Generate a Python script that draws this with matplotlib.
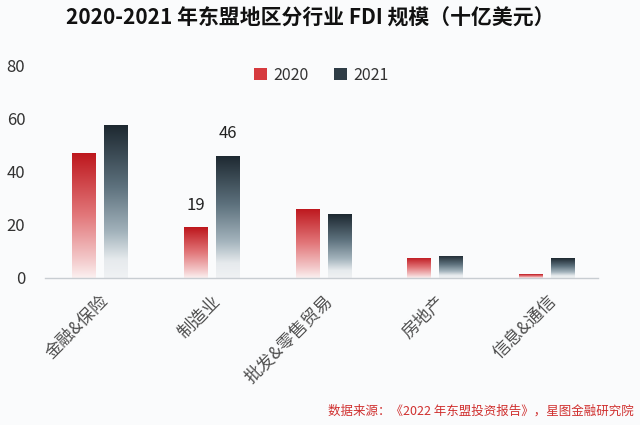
import matplotlib
matplotlib.use("Agg")
import matplotlib.pyplot as plt
import numpy as np
from matplotlib.colors import LinearSegmentedColormap
from matplotlib.patches import Rectangle

plt.rcParams['font.family'] = ['Noto Sans CJK SC', 'DejaVu Sans']

categories = ["金融&保险", "制造业", "批发&零售贸易", "房地产", "信息&通信"]
values_2020 = [47, 19, 26, 7.6, 1.5]
values_2021 = [57.4, 46, 24, 8.3, 7.4]
series_names = ["2020", "2021"]
yticks = [0, 20, 40, 60, 80]
annotations = [(1, 0, "19"), (1, 1, "46")]

bg = "#fafbfc"
red_cmap = LinearSegmentedColormap.from_list(
    "r", [(0, "#fbf0f0"), (0.15, "#f3c8c9"), (0.5, "#e2777a"), (1, "#bd161c")])
dark_cmap = LinearSegmentedColormap.from_list(
    "d", [(0, "#f0f2f4"), (0.12, "#e6eaed"), (0.3, "#a3b3bc"), (0.6, "#5d717d"), (1, "#1d2830")])

fig = plt.figure(figsize=(6.4, 4.25), dpi=100, facecolor=bg)
ax = fig.add_axes([0.07, 0.346, 0.864, 0.501], facecolor=bg)

x = np.arange(len(categories))
w = 0.214
off = 0.143
bars1 = ax.bar(x - off, values_2020, w, facecolor="none", edgecolor="none")
bars2 = ax.bar(x + off, values_2021, w, facecolor="none", edgecolor="none")

grad = np.linspace(0, 1, 256).reshape(-1, 1)
for bars, cmap in ((bars1, red_cmap), (bars2, dark_cmap)):
    for b in bars:
        bx, bw, bh = b.get_x(), b.get_width(), b.get_height()
        im = ax.imshow(grad, cmap=cmap, origin="lower", aspect="auto",
                       extent=(bx, bx + bw, 0, bh), zorder=2)
        im.set_clip_path(b)

ax.set_xlim(-0.49, 4.45)
ax.set_ylim(0, 80)
ax.set_yticks(yticks)
ax.set_yticklabels([str(t) for t in yticks], fontsize=12, color="#333333")
ax.tick_params(axis="y", length=0, pad=14)
ax.set_xticks(x)
ax.set_xticklabels(categories, rotation=45, ha="right", rotation_mode="anchor",
                   fontsize=12.5, color="#505050")
ax.tick_params(axis="x", length=0, pad=10)
for s in ["top", "right", "left"]:
    ax.spines[s].set_visible(False)
ax.spines["bottom"].set_color("#c8cdd2")
ax.spines["bottom"].set_linewidth(1.0)

for i, j, txt in annotations:
    vals = values_2020 if j == 0 else values_2021
    xpos = x[i] - off if j == 0 else x[i] + off
    ax.text(xpos, vals[i] + 5, txt, ha="center", va="bottom", fontsize=12, color="#222222")

handles = [Rectangle((0, 0), 1, 1, facecolor="#d63a3e", edgecolor="none"),
           Rectangle((0, 0), 1, 1, facecolor="#2f3d46", edgecolor="none")]
ax.legend(handles, series_names, loc="upper center", bbox_to_anchor=(0.5, 1.06), ncol=2,
          frameon=False, fontsize=11.5, handlelength=0.8, handleheight=0.8,
          handletextpad=0.4, columnspacing=1.6, labelcolor="#333333")

fig.text(0.484, 0.958, "2020-2021 年东盟地区分行业 FDI 规模（十亿美元）", ha="center", va="center",
         fontsize=15, fontweight="bold", color="#111111")
fig.text(0.99, 0.032, "数据来源：《2022 年东盟投资报告》，星图金融研究院", ha="right", va="center",
         fontsize=9, color="#d0302f", style="italic")

fig.savefig("out.png", dpi=100, facecolor=bg)
